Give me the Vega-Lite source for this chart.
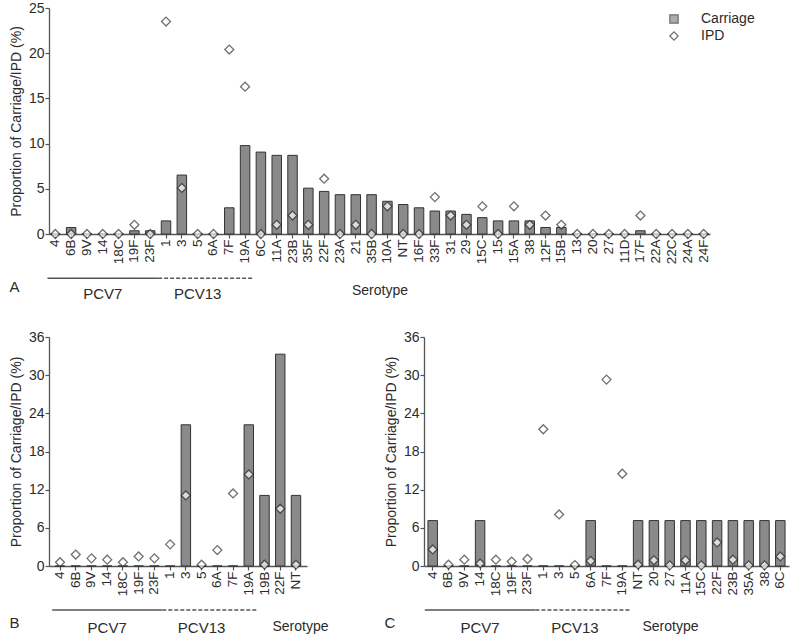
{
  "$schema": "https://vega.github.io/schema/vega-lite/v6.json",
  "padding": {"left": 9, "top": 1, "right": 5, "bottom": 0},
  "background": "white",
  "config": {
    "font": "Liberation Sans",
    "view": {"stroke": null},
    "axis": {
      "labelFont": "Liberation Sans", "labelFontSize": 14, "labelColor": "#2b2b2b",
      "titleFont": "Liberation Sans", "titleFontSize": 14, "titleFontWeight": "normal", "titleColor": "#2b2b2b",
      "domainColor": "#555555", "domainWidth": 1.3, "tickColor": "#555555", "tickWidth": 1.2, "tickSize": 4,
      "grid": false, "labelPadding": 1, "labelOverlap": false
    },
    "axisX": {"labelAngle": -90, "labelFontSize": 13.5},
    "legend": {"labelFont": "Liberation Sans", "labelFontSize": 14, "labelColor": "#2b2b2b", "symbolStrokeColor": "#333333", "symbolStrokeWidth": 1.2, "symbolSize": 70},
    "title": {"font": "Liberation Sans", "fontSize": 15, "fontWeight": "normal", "color": "#2b2b2b"}
  },
  "datasets": {
    "a": [
      {"s": "4", "series": "Carriage", "v": 0}, {"s": "4", "series": "IPD", "v": 0},
      {"s": "6B", "series": "Carriage", "v": 0.72}, {"s": "6B", "series": "IPD", "v": 0},
      {"s": "9V", "series": "Carriage", "v": 0}, {"s": "9V", "series": "IPD", "v": 0},
      {"s": "14", "series": "Carriage", "v": 0}, {"s": "14", "series": "IPD", "v": 0},
      {"s": "18C", "series": "Carriage", "v": 0}, {"s": "18C", "series": "IPD", "v": 0},
      {"s": "19F", "series": "Carriage", "v": 0.36}, {"s": "19F", "series": "IPD", "v": 1.02},
      {"s": "23F", "series": "Carriage", "v": 0.36}, {"s": "23F", "series": "IPD", "v": 0},
      {"s": "1", "series": "Carriage", "v": 1.45}, {"s": "1", "series": "IPD", "v": 23.5},
      {"s": "3", "series": "Carriage", "v": 6.52}, {"s": "3", "series": "IPD", "v": 5.1},
      {"s": "5", "series": "Carriage", "v": 0}, {"s": "5", "series": "IPD", "v": 0},
      {"s": "6A", "series": "Carriage", "v": 0}, {"s": "6A", "series": "IPD", "v": 0},
      {"s": "7F", "series": "Carriage", "v": 2.9}, {"s": "7F", "series": "IPD", "v": 20.4},
      {"s": "19A", "series": "Carriage", "v": 9.78}, {"s": "19A", "series": "IPD", "v": 16.3},
      {"s": "6C", "series": "Carriage", "v": 9.06}, {"s": "6C", "series": "IPD", "v": 0},
      {"s": "11A", "series": "Carriage", "v": 8.7}, {"s": "11A", "series": "IPD", "v": 1.02},
      {"s": "23B", "series": "Carriage", "v": 8.7}, {"s": "23B", "series": "IPD", "v": 2.04},
      {"s": "35F", "series": "Carriage", "v": 5.07}, {"s": "35F", "series": "IPD", "v": 1.02},
      {"s": "22F", "series": "Carriage", "v": 4.71}, {"s": "22F", "series": "IPD", "v": 6.12},
      {"s": "23A", "series": "Carriage", "v": 4.35}, {"s": "23A", "series": "IPD", "v": 0},
      {"s": "21", "series": "Carriage", "v": 4.35}, {"s": "21", "series": "IPD", "v": 1.02},
      {"s": "35B", "series": "Carriage", "v": 4.35}, {"s": "35B", "series": "IPD", "v": 0},
      {"s": "10A", "series": "Carriage", "v": 3.62}, {"s": "10A", "series": "IPD", "v": 3.06},
      {"s": "NT", "series": "Carriage", "v": 3.26}, {"s": "NT", "series": "IPD", "v": 0},
      {"s": "16F", "series": "Carriage", "v": 2.9}, {"s": "16F", "series": "IPD", "v": 0},
      {"s": "33F", "series": "Carriage", "v": 2.54}, {"s": "33F", "series": "IPD", "v": 4.08},
      {"s": "31", "series": "Carriage", "v": 2.54}, {"s": "31", "series": "IPD", "v": 2.04},
      {"s": "29", "series": "Carriage", "v": 2.17}, {"s": "29", "series": "IPD", "v": 1.02},
      {"s": "15C", "series": "Carriage", "v": 1.81}, {"s": "15C", "series": "IPD", "v": 3.06},
      {"s": "15", "series": "Carriage", "v": 1.45}, {"s": "15", "series": "IPD", "v": 0},
      {"s": "15A", "series": "Carriage", "v": 1.45}, {"s": "15A", "series": "IPD", "v": 3.06},
      {"s": "38", "series": "Carriage", "v": 1.45}, {"s": "38", "series": "IPD", "v": 1.02},
      {"s": "12F", "series": "Carriage", "v": 0.72}, {"s": "12F", "series": "IPD", "v": 2.04},
      {"s": "15B", "series": "Carriage", "v": 0.72}, {"s": "15B", "series": "IPD", "v": 1.02},
      {"s": "13", "series": "Carriage", "v": 0}, {"s": "13", "series": "IPD", "v": 0},
      {"s": "20", "series": "Carriage", "v": 0}, {"s": "20", "series": "IPD", "v": 0},
      {"s": "27", "series": "Carriage", "v": 0}, {"s": "27", "series": "IPD", "v": 0},
      {"s": "11D", "series": "Carriage", "v": 0}, {"s": "11D", "series": "IPD", "v": 0},
      {"s": "17F", "series": "Carriage", "v": 0.36}, {"s": "17F", "series": "IPD", "v": 2.04},
      {"s": "22A", "series": "Carriage", "v": 0}, {"s": "22A", "series": "IPD", "v": 0},
      {"s": "22C", "series": "Carriage", "v": 0}, {"s": "22C", "series": "IPD", "v": 0},
      {"s": "24A", "series": "Carriage", "v": 0}, {"s": "24A", "series": "IPD", "v": 0},
      {"s": "24F", "series": "Carriage", "v": 0}, {"s": "24F", "series": "IPD", "v": 0}
    ],
    "b": [
      {"s": "4", "series": "Carriage", "v": 0}, {"s": "4", "series": "IPD", "v": 0.6},
      {"s": "6B", "series": "Carriage", "v": 0}, {"s": "6B", "series": "IPD", "v": 1.8},
      {"s": "9V", "series": "Carriage", "v": 0}, {"s": "9V", "series": "IPD", "v": 1.2},
      {"s": "14", "series": "Carriage", "v": 0}, {"s": "14", "series": "IPD", "v": 1.0},
      {"s": "18C", "series": "Carriage", "v": 0}, {"s": "18C", "series": "IPD", "v": 0.6},
      {"s": "19F", "series": "Carriage", "v": 0}, {"s": "19F", "series": "IPD", "v": 1.5},
      {"s": "23F", "series": "Carriage", "v": 0}, {"s": "23F", "series": "IPD", "v": 1.2},
      {"s": "1", "series": "Carriage", "v": 0}, {"s": "1", "series": "IPD", "v": 3.4},
      {"s": "3", "series": "Carriage", "v": 22.2}, {"s": "3", "series": "IPD", "v": 11.1},
      {"s": "5", "series": "Carriage", "v": 0}, {"s": "5", "series": "IPD", "v": 0.2},
      {"s": "6A", "series": "Carriage", "v": 0}, {"s": "6A", "series": "IPD", "v": 2.5},
      {"s": "7F", "series": "Carriage", "v": 0}, {"s": "7F", "series": "IPD", "v": 11.4},
      {"s": "19A", "series": "Carriage", "v": 22.2}, {"s": "19A", "series": "IPD", "v": 14.4},
      {"s": "19B", "series": "Carriage", "v": 11.1}, {"s": "19B", "series": "IPD", "v": 0.2},
      {"s": "22F", "series": "Carriage", "v": 33.3}, {"s": "22F", "series": "IPD", "v": 9.0},
      {"s": "NT", "series": "Carriage", "v": 11.1}, {"s": "NT", "series": "IPD", "v": 0.2}
    ],
    "c": [
      {"s": "4", "series": "Carriage", "v": 7.14}, {"s": "4", "series": "IPD", "v": 2.6},
      {"s": "6B", "series": "Carriage", "v": 0}, {"s": "6B", "series": "IPD", "v": 0.2},
      {"s": "9V", "series": "Carriage", "v": 0}, {"s": "9V", "series": "IPD", "v": 1.0},
      {"s": "14", "series": "Carriage", "v": 7.14}, {"s": "14", "series": "IPD", "v": 0.4},
      {"s": "18C", "series": "Carriage", "v": 0}, {"s": "18C", "series": "IPD", "v": 1.0},
      {"s": "19F", "series": "Carriage", "v": 0}, {"s": "19F", "series": "IPD", "v": 0.7},
      {"s": "23F", "series": "Carriage", "v": 0}, {"s": "23F", "series": "IPD", "v": 1.1},
      {"s": "1", "series": "Carriage", "v": 0}, {"s": "1", "series": "IPD", "v": 21.5},
      {"s": "3", "series": "Carriage", "v": 0}, {"s": "3", "series": "IPD", "v": 8.1},
      {"s": "5", "series": "Carriage", "v": 0}, {"s": "5", "series": "IPD", "v": 0.15},
      {"s": "6A", "series": "Carriage", "v": 7.14}, {"s": "6A", "series": "IPD", "v": 0.8},
      {"s": "7F", "series": "Carriage", "v": 0}, {"s": "7F", "series": "IPD", "v": 29.3},
      {"s": "19A", "series": "Carriage", "v": 0}, {"s": "19A", "series": "IPD", "v": 14.5},
      {"s": "NT", "series": "Carriage", "v": 7.14}, {"s": "NT", "series": "IPD", "v": 0.2},
      {"s": "20", "series": "Carriage", "v": 7.14}, {"s": "20", "series": "IPD", "v": 0.9},
      {"s": "27", "series": "Carriage", "v": 7.14}, {"s": "27", "series": "IPD", "v": 0.1},
      {"s": "11A", "series": "Carriage", "v": 7.14}, {"s": "11A", "series": "IPD", "v": 0.9},
      {"s": "15C", "series": "Carriage", "v": 7.14}, {"s": "15C", "series": "IPD", "v": 0.1},
      {"s": "22F", "series": "Carriage", "v": 7.14}, {"s": "22F", "series": "IPD", "v": 3.7},
      {"s": "23B", "series": "Carriage", "v": 7.14}, {"s": "23B", "series": "IPD", "v": 1.0},
      {"s": "35A", "series": "Carriage", "v": 7.14}, {"s": "35A", "series": "IPD", "v": 0.1},
      {"s": "38", "series": "Carriage", "v": 7.14}, {"s": "38", "series": "IPD", "v": 0.1},
      {"s": "6C", "series": "Carriage", "v": 7.14}, {"s": "6C", "series": "IPD", "v": 1.5}
    ],
    "groups": [
      {"group": "PCV7", "start": "4", "end": "23F", "center": "14"},
      {"group": "PCV13", "start": "1", "end": "19A", "center": "5"}
    ]
  },
  "spacing": 28,
  "vconcat": [
    {
      "width": 661,
      "height": 226,
      "title": {"text": "A", "orient": "bottom", "anchor": "start", "frame": "bounds", "offset": -22},
      "layer": [
        {
          "data": {"name": "a"},
          "transform": [{"filter": "datum.series === 'Carriage'"}],
          "mark": {"type": "bar", "stroke": "#333333", "strokeWidth": 1},
          "encoding": {
            "x": {
              "field": "s", "type": "nominal", "title": "Serotype",
              "scale": {"domain": ["4","6B","9V","14","18C","19F","23F","1","3","5","6A","7F","19A","6C","11A","23B","35F","22F","23A","21","35B","10A","NT","16F","33F","31","29","15C","15","15A","38","12F","15B","13","20","27","11D","17F","22A","22C","24A","24F"], "paddingInner": 0.4, "paddingOuter": 0.1},
              "axis": {"titlePadding": 20}
            },
            "y": {
              "field": "v", "type": "quantitative", "title": "Proportion of Carriage/IPD (%)",
              "scale": {"domain": [0, 25], "nice": false},
              "axis": {"values": [0, 5, 10, 15, 20, 25], "labelOverlap": false, "titlePadding": 5}
            },
            "fill": {"field": "series", "type": "nominal", "title": null,
              "scale": {"domain": ["Carriage", "IPD"], "range": ["#8a8a8a", "#ffffff"]},
              "legend": {"orient": "none", "legendX": 618, "legendY": 4, "rowPadding": 3, "labelOffset": 20}}
          }
        },
        {
          "data": {"name": "a"},
          "transform": [{"filter": "datum.series === 'IPD'"}],
          "mark": {"type": "point", "filled": true, "stroke": "#333333", "strokeWidth": 1.3, "size": 80},
          "encoding": {
            "x": {"field": "s", "type": "nominal", "title": "Serotype"},
            "y": {"field": "v", "type": "quantitative", "title": "Proportion of Carriage/IPD (%)",
              "axis": {"values": [0, 5, 10, 15, 20, 25], "labelOverlap": false, "titlePadding": 5}},
            "fill": {"field": "series", "type": "nominal", "title": null},
            "shape": {"field": "series", "type": "nominal", "title": null,
              "scale": {"domain": ["Carriage", "IPD"], "range": ["square", "diamond"]}}
          }
        },
        {
          "data": {"name": "groups"},
          "mark": {"type": "rule", "color": "#555555", "strokeWidth": 1.5},
          "encoding": {
            "x": {"field": "start", "type": "nominal", "title": "Serotype", "bandPosition": -0.33},
            "x2": {"field": "end", "bandPosition": 1.33},
            "y": {"datum": -4.9},
            "strokeDash": {"field": "group", "type": "nominal", "scale": {"domain": ["PCV7", "PCV13"], "range": [[1, 0], [4, 2]]}, "legend": null}
          }
        },
        {
          "data": {"name": "groups"},
          "mark": {"type": "text", "fontSize": 15, "color": "#2b2b2b", "baseline": "middle"},
          "encoding": {
            "x": {"field": "center", "type": "nominal", "title": "Serotype"},
            "y": {"datum": -6.6},
            "text": {"field": "group"}
          }
        }
      ]
    },
    {
      "spacing": 55,
      "hconcat": [
        {
          "width": 258,
          "height": 229,
          "title": {"text": "B", "orient": "bottom", "anchor": "start", "frame": "bounds", "offset": -20},
          "layer": [
            {
              "data": {"name": "b"},
              "transform": [{"filter": "datum.series === 'Carriage'"}],
              "mark": {"type": "bar", "fill": "#8a8a8a", "stroke": "#333333", "strokeWidth": 1},
              "encoding": {
                "x": {
                  "field": "s", "type": "nominal", "title": "Serotype",
                  "scale": {"domain": ["4","6B","9V","14","18C","19F","23F","1","3","5","6A","7F","19A","19B","22F","NT"], "paddingInner": 0.4, "paddingOuter": 0.4},
                  "axis": {"titlePadding": 24, "titleX": 251}
                },
                "y": {
                  "field": "v", "type": "quantitative", "title": "Proportion of Carriage/IPD (%)",
                  "scale": {"domain": [0, 36], "nice": false},
                  "axis": {"values": [0, 6, 12, 18, 24, 30, 36], "labelOverlap": false, "titlePadding": 5}
                }
              }
            },
            {
              "data": {"name": "b"},
              "transform": [{"filter": "datum.series === 'IPD'"}],
              "mark": {"type": "point", "shape": "diamond", "filled": true, "fill": "#ffffff", "stroke": "#333333", "strokeWidth": 1.3, "size": 80},
              "encoding": {
                "x": {"field": "s", "type": "nominal", "title": "Serotype"},
                "y": {"field": "v", "type": "quantitative", "title": "Proportion of Carriage/IPD (%)",
                  "axis": {"values": [0, 6, 12, 18, 24, 30, 36], "labelOverlap": false, "titlePadding": 5}}
              }
            },
            {
              "data": {"name": "groups"},
              "mark": {"type": "rule", "color": "#555555", "strokeWidth": 1.5},
              "encoding": {
                "x": {"field": "start", "type": "nominal", "title": "Serotype", "bandPosition": -0.33},
                "x2": {"field": "end", "bandPosition": 1.33},
                "y": {"datum": -6.9, "axis": {"values": [0, 6, 12, 18, 24, 30, 36], "labelOverlap": false, "titlePadding": 5}},
                "strokeDash": {"field": "group", "type": "nominal", "scale": {"domain": ["PCV7", "PCV13"], "range": [[1, 0], [4, 2]]}, "legend": null}
              }
            },
            {
              "data": {"name": "groups"},
              "mark": {"type": "text", "fontSize": 15, "color": "#2b2b2b", "baseline": "middle"},
              "encoding": {
                "x": {"field": "center", "type": "nominal", "title": "Serotype"},
                "y": {"datum": -9.8, "axis": {"values": [0, 6, 12, 18, 24, 30, 36], "labelOverlap": false, "titlePadding": 5}},
                "text": {"field": "group"}
              }
            }
          ]
        },
        {
          "width": 365,
          "height": 229,
          "title": {"text": "C", "orient": "bottom", "anchor": "start", "frame": "bounds", "offset": -20},
          "layer": [
            {
              "data": {"name": "c"},
              "transform": [{"filter": "datum.series === 'Carriage'"}],
              "mark": {"type": "bar", "fill": "#8a8a8a", "stroke": "#333333", "strokeWidth": 1},
              "encoding": {
                "x": {
                  "field": "s", "type": "nominal", "title": "Serotype",
                  "scale": {"domain": ["4","6B","9V","14","18C","19F","23F","1","3","5","6A","7F","19A","NT","20","27","11A","15C","22F","23B","35A","38","6C"], "paddingInner": 0.4, "paddingOuter": 0.25},
                  "axis": {"titlePadding": 24, "titleX": 246}
                },
                "y": {
                  "field": "v", "type": "quantitative", "title": "Proportion of Carriage/IPD (%)",
                  "scale": {"domain": [0, 36], "nice": false},
                  "axis": {"values": [0, 6, 12, 18, 24, 30, 36], "labelOverlap": false, "titlePadding": 5}
                }
              }
            },
            {
              "data": {"name": "c"},
              "transform": [{"filter": "datum.series === 'IPD'"}],
              "mark": {"type": "point", "shape": "diamond", "filled": true, "fill": "#ffffff", "stroke": "#333333", "strokeWidth": 1.3, "size": 80},
              "encoding": {
                "x": {"field": "s", "type": "nominal", "title": "Serotype"},
                "y": {"field": "v", "type": "quantitative", "title": "Proportion of Carriage/IPD (%)",
                  "axis": {"values": [0, 6, 12, 18, 24, 30, 36], "labelOverlap": false, "titlePadding": 5}}
              }
            },
            {
              "data": {"name": "groups"},
              "mark": {"type": "rule", "color": "#555555", "strokeWidth": 1.5},
              "encoding": {
                "x": {"field": "start", "type": "nominal", "title": "Serotype", "bandPosition": -0.33},
                "x2": {"field": "end", "bandPosition": 1.33},
                "y": {"datum": -6.9, "axis": {"values": [0, 6, 12, 18, 24, 30, 36], "labelOverlap": false, "titlePadding": 5}},
                "strokeDash": {"field": "group", "type": "nominal", "scale": {"domain": ["PCV7", "PCV13"], "range": [[1, 0], [4, 2]]}, "legend": null}
              }
            },
            {
              "data": {"name": "groups"},
              "mark": {"type": "text", "fontSize": 15, "color": "#2b2b2b", "baseline": "middle"},
              "encoding": {
                "x": {"field": "center", "type": "nominal", "title": "Serotype"},
                "y": {"datum": -9.8, "axis": {"values": [0, 6, 12, 18, 24, 30, 36], "labelOverlap": false, "titlePadding": 5}},
                "text": {"field": "group"}
              }
            }
          ]
        }
      ]
    }
  ]
}
